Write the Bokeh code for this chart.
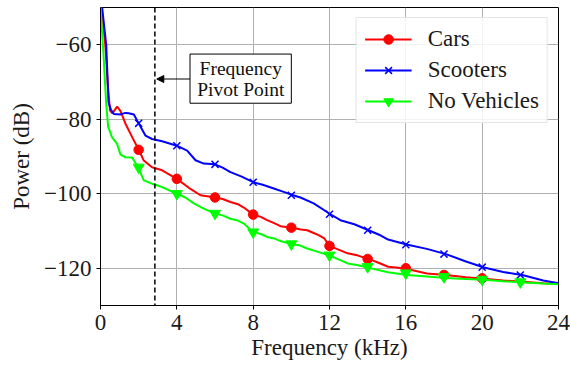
from bokeh.plotting import figure
from bokeh.models import Span, Arrow, NormalHead, FixedTicker, Legend, LegendItem
from bokeh.core.properties import value
from bokeh.embed import file_html
from bokeh.resources import INLINE

# ---------------- data ----------------
cars_f = [0, 0.25, 0.4, 0.5, 0.62, 0.75, 0.87, 1.05, 1.31, 1.66, 2.0, 2.27, 2.7, 3.23, 4.0, 4.63, 5.24,
          6.0, 6.4, 6.81, 7.2, 7.51, 8.0, 8.4, 8.73, 9.1, 9.43, 10.04, 10.5, 10.83, 11.2, 11.43, 11.73,
          12.0, 12.57, 12.95, 13.5, 14.05, 14.6, 15.07, 15.5, 16.07, 17.1, 18.1, 19.15, 20.1, 21.1,
          22.15, 23.2, 24]
cars_db = [-47, -60, -72, -77.6, -78.4, -77.5, -76.6, -77.8, -81.2, -84.8, -88.2, -91.1, -92.9, -93.7,
           -96.0, -98.4, -100.4, -101.0, -101.4, -102.2, -102.8, -103.7, -105.6, -106.2, -107.1, -107.9,
           -108.7, -109.1, -109.6, -109.8, -110.6, -111.1, -112.0, -114.0, -115.2, -116.0, -116.6, -117.5,
           -118.6, -119.6, -119.8, -120.2, -121.4, -121.8, -122.4, -122.8, -123.3, -123.6, -124.0, -124.1]

scoot_f = [0, 0.3, 0.42, 0.55, 0.7, 1.05, 1.3, 1.48, 1.75, 2.0, 2.36, 2.7, 3.23, 4.0, 4.54, 4.98, 5.41,
           6.0, 6.4, 6.81, 7.4, 8.0, 8.5, 9.08, 9.6, 10.1, 10.48, 11.17, 12.05, 12.57, 13.3, 14.05, 14.6,
           15.07, 15.6, 16.1, 17.1, 18.1, 19.15, 20.1, 21.1, 22.15, 23.2, 24]
scoot_db = [-46, -60, -75.5, -77.5, -78.6, -78.7, -78.3, -78.4, -78.7, -81.1, -84.4, -85.3, -85.9, -87.1,
            -88.4, -91.0, -91.9, -92.1, -93.0, -94.2, -95.4, -96.9, -97.6, -98.6, -99.5, -100.4, -101.0,
            -102.6, -105.5, -107.1, -108.2, -109.8, -111.0, -112.3, -113.0, -113.7, -114.8, -116.2,
            -118.2, -119.8, -121.0, -121.9, -123.3, -124.0]

none_f = [0, 0.15, 0.3, 0.4, 0.6, 0.87, 1.05, 1.31, 1.66, 1.97, 2.27, 2.7, 3.23, 4.0, 4.45, 4.89, 5.41,
          5.99, 6.4, 6.81, 7.2, 7.51, 8.0, 8.4, 8.73, 9.1, 9.43, 10.0, 10.4, 10.83, 11.4, 11.96, 12.57,
          12.95, 13.5, 14.05, 15.07, 16.07, 17.1, 18.1, 19.15, 20.1, 21.1, 22.15, 23.2, 24]
none_db = [-50, -62, -76, -82, -84.8, -86.6, -89.5, -90.2, -90.3, -92.9, -96.4, -97.3, -98.2, -100.0,
           -101.0, -102.6, -104.0, -105.3, -105.8, -106.7, -107.2, -108.0, -110.3, -110.8, -111.6, -112.0,
           -112.7, -113.5, -113.8, -114.7, -115.6, -116.5, -117.8, -118.7, -119.2, -119.9, -121.1, -121.8,
           -122.2, -122.6, -122.9, -123.1, -123.5, -123.8, -124.1, -124.3]

cars_mk_f = [2, 4, 6, 8, 10, 12, 14, 16, 18, 20]
cars_mk = [-88.2, -96.0, -101.0, -105.6, -109.1, -114.0, -117.5, -120.0, -121.8, -122.7]
mark_f = [2, 4, 6, 8, 10, 12, 14, 16, 18, 20, 22]
scoot_mk = [-81.1, -87.1, -92.1, -96.9, -100.4, -105.5, -109.8, -113.7, -116.2, -119.7, -121.8]
none_mk = [-92.9, -100.0, -105.3, -110.3, -113.5, -116.5, -119.6, -121.3, -122.3, -123.0, -123.7]

x_ticks = [0, 4, 8, 12, 16, 20, 24]
y_ticks = [-60, -80, -100, -120]
y_tick_labels = {-60: "\u221260", -80: "\u221280", -100: "\u2212100", -120: "\u2212120"}
pivot_khz = 2.85
names = ["Cars", "Scooters", "No Vehicles"]
annot_lines = ["Frequency", "Pivot Point"]

FONT = "'Liberation Serif'"
TXT = "#1a1a1a"

p = figure(width=570, height=367, output_backend="svg", toolbar_location=None,
           x_range=(0, 24), y_range=(-130, -50),
           min_border_left=100, min_border_right=12, min_border_top=7, min_border_bottom=62)
p.outline_line_color = "black"
p.outline_line_width = 1
p.background_fill_color = "white"

for ax in (p.xaxis[0], p.yaxis[0]):
    ax.axis_line_color = "black"
    ax.major_tick_line_color = "black"
    ax.major_tick_out = 4
    ax.major_tick_in = 0
    ax.minor_tick_line_color = None
    ax.major_label_text_font = FONT
    ax.major_label_text_font_size = "23px"
    ax.major_label_text_font_style = "normal"
    ax.major_label_text_color = TXT
    ax.major_label_standoff = 5
    ax.axis_label_text_font = FONT
    ax.axis_label_text_font_size = "23px"
    ax.axis_label_text_font_style = "normal"
    ax.axis_label_text_color = TXT

p.xaxis.ticker = FixedTicker(ticks=x_ticks)
p.yaxis.ticker = FixedTicker(ticks=y_ticks)
p.yaxis.major_label_overrides = y_tick_labels
p.xaxis.axis_label = "Frequency (kHz)"
p.yaxis.axis_label = "Power (dB)"
p.xaxis.axis_label_standoff = 2
p.yaxis.axis_label_standoff = 7

p.grid.grid_line_color = "#b0b0b0"
p.grid.grid_line_width = 1

colors = ["#ff0000", "#0000ff", "#00ff00"]
l1 = p.line(cars_f, cars_db, line_color=colors[0], line_width=2)
m1 = p.scatter(cars_mk_f, cars_mk, marker="circle", size=9.5, color=colors[0])
l2 = p.line(scoot_f, scoot_db, line_color=colors[1], line_width=2)
m2 = p.scatter(mark_f, scoot_mk, marker="x", size=10, line_color=colors[1], line_width=1.5)
l3 = p.line(none_f, none_db, line_color=colors[2], line_width=2)
m3 = p.scatter(mark_f, none_mk, marker="inverted_triangle", size=11, color=colors[2])

# pivot line and annotation
p.add_layout(Span(location=pivot_khz, dimension="height", line_color="black",
                  line_dash="5 3", line_width=1.5))
p.quad(left=[4.69], right=[10.0], top=[-62.5], bottom=[-75.7],
       fill_color="white", line_color="black", line_width=1)
p.text(x=[7.35, 7.35], y=[-66.3, -72.0], text=annot_lines, text_align="center",
       text_baseline="middle", text_font=value(FONT), text_font_size="19.5px", text_color="#111111")
p.add_layout(Arrow(end=NormalHead(size=7, fill_color="black", line_color="black"),
                   x_start=4.69, y_start=-69.2, x_end=2.95, y_end=-69.2,
                   line_color="black", line_width=1.2))

legend = Legend(items=[LegendItem(label=names[0], renderers=[l1, m1]),
                       LegendItem(label=names[1], renderers=[l2, m2]),
                       LegendItem(label=names[2], renderers=[l3, m3])],
                location="top_right")
legend.margin = 10
legend.padding = 8
legend.spacing = 5
legend.glyph_width = 47
legend.glyph_height = 24
legend.label_standoff = 16
legend.label_text_font = FONT
legend.label_text_font_size = "23px"
legend.label_text_color = TXT
legend.border_line_color = "#cccccc"
legend.border_line_width = 1
legend.background_fill_alpha = 0.85
p.add_layout(legend)

open("out.html", "w").write(file_html(p, INLINE))
